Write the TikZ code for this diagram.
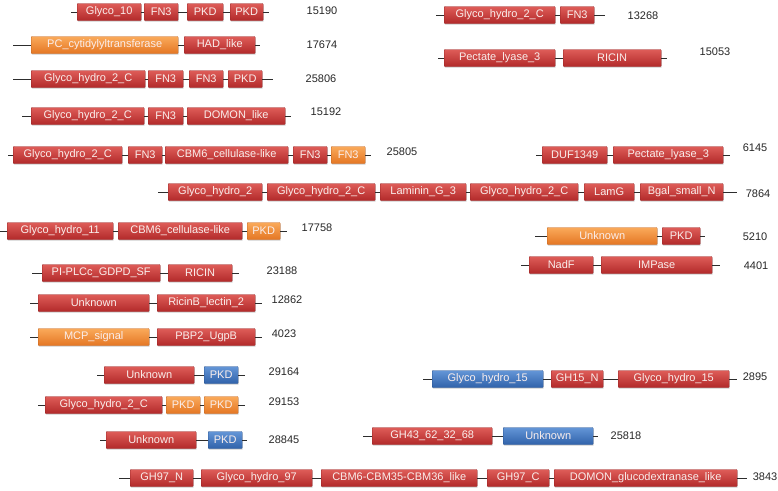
\documentclass[tikz,border=0pt]{standalone}
\usepackage{fontspec}
\setmainfont{Liberation Sans}
\usetikzlibrary{shadows}
\definecolor{redT}{RGB}{222,92,88}
\definecolor{redB}{RGB}{178,42,42}
\definecolor{orT}{RGB}{250,170,90}
\definecolor{orB}{RGB}{228,118,36}
\definecolor{blT}{RGB}{100,150,215}
\definecolor{blB}{RGB}{48,98,170}
\definecolor{boxtext}{RGB}{250,238,236}
\definecolor{numtext}{RGB}{40,40,40}
\definecolor{bbcol}{RGB}{45,45,45}
\tikzset{
  dombox/.style={rectangle, rounded corners=0.8pt, minimum height=17pt, inner xsep=0pt, inner ysep=0pt,
    font=\fontsize{11}{13}\selectfont, text=boxtext, line width=0.4pt,
    drop shadow={opacity=0.25, shadow xshift=0.6pt, shadow yshift=-1.4pt}},
  rd/.style={dombox, top color=redT, bottom color=redB, draw=redB!85!black},
  og/.style={dombox, top color=orT, bottom color=orB, draw=orB!85!black},
  bl/.style={dombox, top color=blT, bottom color=blB, draw=blB!85!black},
  bb/.style={draw=bbcol, line width=1pt},
  num/.style={font=\fontsize{11}{13}\selectfont, text=numtext, inner sep=0pt}
}
\newcommand\dom[6]{\node[#2, anchor=west, minimum width={(#4-#3)*1pt}] (#1) at (#3,#5) {#6};}
\begin{document}
\begin{tikzpicture}[x=1pt,y=-1pt]
\useasboundingbox (0,0) rectangle (778,490);
\fill[white] (0,0) rectangle (778,490);

% Row A 15190
\coordinate (A0) at (71,12); \coordinate (A9) at (269,12);
\dom{A1}{rd}{77}{141}{12}{Glyco\_10}
\dom{A2}{rd}{144}{178}{12}{FN3}
\dom{A3}{rd}{187}{223}{12}{PKD}
\dom{A4}{rd}{230}{263}{12}{PKD}
\draw[bb] (A0) -- (A1) -- (A2) -- (A3) -- (A4) -- (A9);
\node[num] (An) at (322,11) {15190};

% Row B 17674
\coordinate (B0) at (13,45); \coordinate (B9) at (260,45);
\dom{B1}{og}{31}{178}{45}{PC\_cytidylyltransferase}
\dom{B2}{rd}{184}{255}{45}{HAD\_like}
\draw[bb] (B0) -- (B1) -- (B2) -- (B9);
\node[num] (Bn) at (322,45) {17674};

% Row C 25806
\coordinate (C0) at (13,79); \coordinate (C9) at (273,79);
\dom{C1}{rd}{31}{145}{79}{Glyco\_hydro\_2\_C}
\dom{C2}{rd}{148}{183}{79}{FN3}
\dom{C3}{rd}{189}{223}{79}{FN3}
\dom{C4}{rd}{228}{262}{79}{PKD}
\draw[bb] (C0) -- (C1) -- (C2) -- (C3) -- (C4) -- (C9);
\node[num] (Cn) at (321,79) {25806};

% Row D 15192
\coordinate (D0) at (22,116); \coordinate (D9) at (291,116);
\dom{D1}{rd}{31}{144}{116}{Glyco\_hydro\_2\_C}
\dom{D2}{rd}{148}{183}{116}{FN3}
\dom{D3}{rd}{187}{285}{116}{DOMON\_like}
\draw[bb] (D0) -- (D1) -- (D2) -- (D3) -- (D9);
\node[num] (Dn) at (326,112) {15192};

% Right R1 13268
\coordinate (P0) at (436,15); \coordinate (P9) at (605,15);
\dom{P1}{rd}{444}{555}{15}{Glyco\_hydro\_2\_C}
\dom{P2}{rd}{560}{594}{15}{FN3}
\draw[bb] (P0) -- (P1) -- (P2) -- (P9);
\node[num] (Pn) at (643,16) {13268};

% Right R2 15053
\coordinate (Q0) at (438,58); \coordinate (Q9) at (667,58);
\dom{Q1}{rd}{444}{555}{58}{Pectate\_lyase\_3}
\dom{Q2}{rd}{563}{661}{58}{RICIN}
\draw[bb] (Q0) -- (Q1) -- (Q2) -- (Q9);
\node[num] (Qn) at (715,52) {15053};

% Row E 25805
\coordinate (E0) at (8,155); \coordinate (E9) at (371,155);
\dom{E1}{rd}{13}{122}{155}{Glyco\_hydro\_2\_C}
\dom{E2}{rd}{128}{162}{155}{FN3}
\dom{E3}{rd}{165}{288}{155}{CBM6\_cellulase-like}
\dom{E4}{rd}{293}{327}{155}{FN3}
\dom{E5}{og}{331}{365}{155}{FN3}
\draw[bb] (E0) -- (E1) -- (E2) -- (E3) -- (E4) -- (E5) -- (E9);
\node[num] (En) at (402,152) {25805};

% Right R3 6145
\coordinate (R0) at (536,155); \coordinate (R9) at (730,155);
\dom{R1}{rd}{542}{607}{155}{DUF1349}
\dom{R2}{rd}{613}{723}{155}{Pectate\_lyase\_3}
\draw[bb] (R0) -- (R1) -- (R2) -- (R9);
\node[num] (Rn) at (755,148) {6145};

% Row F 7864
\coordinate (F0) at (158,192); \coordinate (F9) at (737,192);
\dom{F1}{rd}{168}{262}{192}{Glyco\_hydro\_2}
\dom{F2}{rd}{267}{375}{192}{Glyco\_hydro\_2\_C}
\dom{F3}{rd}{380}{466}{192}{Laminin\_G\_3}
\dom{F4}{rd}{470}{578}{192}{Glyco\_hydro\_2\_C}
\dom{F5}{rd}{584}{634}{192}{LamG}
\dom{F6}{rd}{640}{723}{192}{Bgal\_small\_N}
\draw[bb] (F0) -- (F1) -- (F2) -- (F3) -- (F4) -- (F5) -- (F6) -- (F9);
\node[num] (Fn) at (758,194) {7864};

% Row G 17758
\coordinate (G0) at (0,231); \coordinate (G9) at (287,231);
\dom{G1}{rd}{7}{113}{231}{Glyco\_hydro\_11}
\dom{G2}{rd}{118}{242}{231}{CBM6\_cellulase-like}
\dom{G3}{og}{247}{280}{231}{PKD}
\draw[bb] (G0) -- (G1) -- (G2) -- (G3) -- (G9);
\node[num] (Gn) at (317,228) {17758};

% Right R4 5210
\coordinate (S0) at (535,236); \coordinate (S9) at (705,236);
\dom{S1}{og}{547}{657}{236}{Unknown}
\dom{S2}{rd}{662}{700}{236}{PKD}
\draw[bb] (S0) -- (S1) -- (S2) -- (S9);
\node[num] (Sn) at (755,237) {5210};

% Right R5 4401
\coordinate (T0) at (521,265); \coordinate (T9) at (720,265);
\dom{T1}{rd}{529}{593}{265}{NadF}
\dom{T2}{rd}{601}{712}{265}{IMPase}
\draw[bb] (T0) -- (T1) -- (T2) -- (T9);
\node[num] (Tn) at (756,266) {4401};

% Row H 23188
\coordinate (H0) at (32,273); \coordinate (H9) at (239,273);
\dom{H1}{rd}{42}{160}{273}{PI-PLCc\_GDPD\_SF}
\dom{H2}{rd}{168}{232}{273}{RICIN}
\draw[bb] (H0) -- (H1) -- (H2) -- (H9);
\node[num] (Hn) at (282,271) {23188};

% Row I 12862
\coordinate (I0) at (30,303); \coordinate (I9) at (262,303);
\dom{I1}{rd}{38}{149}{303}{Unknown}
\dom{I2}{rd}{157}{255}{303}{RicinB\_lectin\_2}
\draw[bb] (I0) -- (I1) -- (I2) -- (I9);
\node[num] (In) at (287,300) {12862};

% Row J 4023
\coordinate (J0) at (30,337); \coordinate (J9) at (262,337);
\dom{J1}{og}{38}{149}{337}{MCP\_signal}
\dom{J2}{rd}{157}{255}{337}{PBP2\_UgpB}
\draw[bb] (J0) -- (J1) -- (J2) -- (J9);
\node[num] (Jn) at (284,334) {4023};

% Row K 29164
\coordinate (K0) at (97,375); \coordinate (K9) at (245,375);
\dom{K1}{rd}{104}{194}{375}{Unknown}
\dom{K2}{bl}{204}{238}{375}{PKD}
\draw[bb] (K0) -- (K1) -- (K2) -- (K9);
\node[num] (Kn) at (284,372) {29164};

% Right R6 2895
\coordinate (U0) at (423,379); \coordinate (U9) at (737,379);
\dom{U1}{bl}{432}{543}{379}{Glyco\_hydro\_15}
\dom{U2}{rd}{551}{603}{379}{GH15\_N}
\dom{U3}{rd}{618}{729}{379}{Glyco\_hydro\_15}
\draw[bb] (U0) -- (U1) -- (U2) -- (U3) -- (U9);
\node[num] (Un) at (755,377) {2895};

% Row L 29153
\coordinate (L0) at (38,405); \coordinate (L9) at (245,405);
\dom{L1}{rd}{45}{162}{405}{Glyco\_hydro\_2\_C}
\dom{L2}{og}{166}{200}{405}{PKD}
\dom{L3}{og}{204}{238}{405}{PKD}
\draw[bb] (L0) -- (L1) -- (L2) -- (L3) -- (L9);
\node[num] (Ln) at (284,402) {29153};

% Row M 28845
\coordinate (M0) at (100,440); \coordinate (M9) at (247,440);
\dom{M1}{rd}{106}{196}{440}{Unknown}
\dom{M2}{bl}{208}{242}{440}{PKD}
\draw[bb] (M0) -- (M1) -- (M2) -- (M9);
\node[num] (Mn) at (284,440) {28845};

% Right R7 25818
\coordinate (V0) at (363,436); \coordinate (V9) at (598,436);
\dom{V1}{rd}{372}{492}{436}{GH43\_62\_32\_68}
\dom{V2}{bl}{503}{593}{436}{Unknown}
\draw[bb] (V0) -- (V1) -- (V2) -- (V9);
\node[num] (Vn) at (626,436) {25818};

% Row N 3843
\coordinate (N0) at (119,478); \coordinate (N9) at (747,478);
\dom{N1}{rd}{130}{193}{478}{GH97\_N}
\dom{N2}{rd}{201}{312}{478}{Glyco\_hydro\_97}
\dom{N3}{rd}{321}{477}{478}{CBM6-CBM35-CBM36\_like}
\dom{N4}{rd}{487}{549}{478}{GH97\_C}
\dom{N5}{rd}{554}{737}{478}{DOMON\_glucodextranase\_like}
\draw[bb] (N0) -- (N1) -- (N2) -- (N3) -- (N4) -- (N5) -- (N9);
\node[num] (Nn) at (765,477) {3843};
\end{tikzpicture}
\end{document}
